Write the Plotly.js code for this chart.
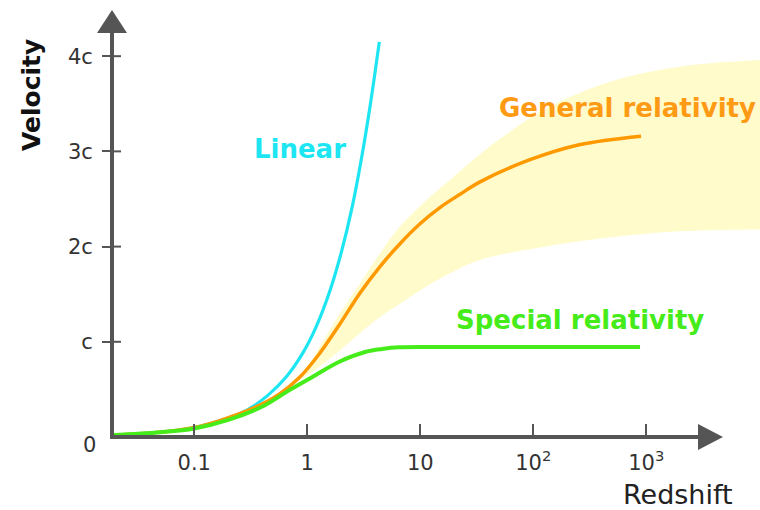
<!DOCTYPE html>
<html>
<head>
<meta charset="utf-8">
<script src="https://cdn.plot.ly/plotly-3.0.1.min.js"></script>
<style>html,body{margin:0;padding:0;background:#fff;}#chart{width:760px;height:510px;}</style>
</head>
<body>
<div id="chart"></div>
<script>
// ---- data (redshift z, velocity in units of c) ----
const linearZ = [0.019, 0.05, 0.1, 0.2, 0.3, 0.45, 0.65, 0.9, 1.2, 1.6, 2.0, 2.5, 3.0, 3.6, 4.34];
const linearV = [0.02, 0.05, 0.1, 0.2, 0.29, 0.44, 0.63, 0.87, 1.16, 1.55, 1.94, 2.42, 2.91, 3.48, 4.15];

const specialZ = [0.019, 0.05, 0.1, 0.2, 0.4, 0.69, 1.11, 1.92, 3.3, 4.6, 6.5, 14.7, 100, 880];
const specialV = [0.02, 0.05, 0.09, 0.18, 0.32, 0.49, 0.63, 0.79, 0.895, 0.925, 0.942, 0.945, 0.945, 0.945];

const generalZ = [0.019, 0.05, 0.1, 0.166, 0.328, 0.565, 0.86, 1.29, 1.95, 2.92, 4.40, 6.61, 9.94, 14.9, 22.5, 33.8, 92.2, 255, 898];
const generalV = [0.02, 0.05, 0.1, 0.17, 0.30, 0.45, 0.63, 0.88, 1.19, 1.51, 1.79, 2.03, 2.24, 2.41, 2.55, 2.68, 2.91, 3.07, 3.16];

const bandUpperZ = [0.5, 0.92, 1.29, 1.95, 2.92, 4.40, 6.61, 11.4, 18.3, 33.8, 46.8, 129, 503, 1960, 10000, 20000];
const bandUpperV = [0.42, 0.67, 0.95, 1.30, 1.61, 1.93, 2.21, 2.49, 2.70, 2.97, 3.10, 3.45, 3.74, 3.89, 3.96, 3.97];
const bandLowerZ = [0.5, 0.86, 1.29, 1.95, 2.92, 4.40, 6.61, 9.94, 18.3, 33.8, 129, 503, 1960, 10000, 20000];
const bandLowerV = [0.42, 0.60, 0.74, 0.91, 1.09, 1.26, 1.40, 1.54, 1.72, 1.86, 2.00, 2.10, 2.16, 2.18, 2.18];

const xTickVals = [0.1, 1, 10, 100, 1000];
const xTickText = ['0.1', '1', '10', '10<sup>2</sup>', '10<sup>3</sup>'];
const yTickVals = [1, 2, 3, 4];
const yTickText = ['c', '2c', '3c', '4c'];
const zeroLabel = '0';

// ---- geometry helpers (pixel -> paper) ----
const L = 112, R = 760, T = 10, B = 437;
const PW = R - L, PH = B - T;
const px = p => (p - L) / PW;
const py = p => (B - p) / PH;

const cyan = '#1DE6F2', orange = '#FF9900', green = '#46EC1A', band = '#FFFBCB', axisCol = '#555555';

const bandX = bandUpperZ.concat(bandLowerZ.slice().reverse());
const bandY = bandUpperV.concat(bandLowerV.slice().reverse());

const traces = [
  {x: bandX, y: bandY, mode: 'lines', fill: 'toself', fillcolor: band,
   line: {width: 0, shape: 'spline', smoothing: 1}, hoverinfo: 'skip', showlegend: false},
  {x: linearZ, y: linearV, mode: 'lines', line: {color: cyan, width: 3.2, shape: 'spline', smoothing: 1},
   hoverinfo: 'skip', showlegend: false},
  {x: generalZ, y: generalV, mode: 'lines', line: {color: orange, width: 3.5, shape: 'spline', smoothing: 1},
   hoverinfo: 'skip', showlegend: false},
  {x: specialZ, y: specialV, mode: 'lines', line: {color: green, width: 4, shape: 'spline', smoothing: 1},
   hoverinfo: 'skip', showlegend: false}
];

const shapes = [];
// y axis line + arrow
shapes.push({type: 'line', xref: 'paper', yref: 'paper', x0: 0, x1: 0, y0: py(438), y1: py(30),
  line: {color: axisCol, width: 4}});
shapes.push({type: 'path', xref: 'paper', yref: 'paper',
  path: `M ${px(L - 15)} ${py(33)} L ${px(L + 15)} ${py(33)} L ${px(L)} ${py(10)} Z`,
  fillcolor: axisCol, line: {width: 0}});
// x axis line + arrow
shapes.push({type: 'line', xref: 'paper', yref: 'paper', x0: px(110), x1: px(702), y0: 0, y1: 0,
  line: {color: axisCol, width: 4}});
shapes.push({type: 'path', xref: 'paper', yref: 'paper',
  path: `M ${px(698)} ${py(B - 13)} L ${px(698)} ${py(B + 13)} L ${px(723)} ${py(B)} Z`,
  fillcolor: axisCol, line: {width: 0}});
// inner halves of the y ticks (ticks cross the axis)
yTickVals.forEach(v => shapes.push({type: 'line', xref: 'paper', yref: 'y', x0: 0, x1: px(L + 9), y0: v, y1: v,
  line: {color: axisCol, width: 2}}));

const layout = {
  width: 760, height: 510,
  margin: {l: L, r: 760 - R, t: T, b: 510 - B, pad: 0},
  paper_bgcolor: '#ffffff', plot_bgcolor: '#ffffff',
  showlegend: false,
  xaxis: {type: 'log', range: [-1.728, 4.006], showgrid: false, zeroline: false, showline: false,
    tickmode: 'array', tickvals: xTickVals, ticktext: xTickText,
    ticks: 'inside', ticklen: 13, tickwidth: 2, tickcolor: axisCol,
    ticklabelstandoff: 11,
    tickfont: {family: 'DejaVu Sans', size: 21, color: '#333333'}},
  yaxis: {range: [0, 4.485], showgrid: false, zeroline: false, showline: false,
    tickmode: 'array', tickvals: yTickVals, ticktext: yTickText,
    ticks: 'outside', ticklen: 9, tickwidth: 2, tickcolor: axisCol,
    ticklabelstandoff: 5,
    tickfont: {family: 'DejaVu Sans', size: 21, color: '#333333'}},
  shapes: shapes,
  annotations: [
    {text: zeroLabel, xref: 'paper', yref: 'paper', x: px(98), y: py(445), xanchor: 'right', yanchor: 'middle',
     showarrow: false, font: {family: 'DejaVu Sans', size: 21, color: '#333333'}},
    {text: 'Velocity', xref: 'paper', yref: 'paper', x: px(31), y: py(95), xanchor: 'center', yanchor: 'middle',
     textangle: -90, showarrow: false, font: {family: 'DejaVu Sans', size: 25, color: '#111111', weight: 'bold'}},
    {text: 'Redshift', xref: 'paper', yref: 'paper', x: px(678), y: py(495), xanchor: 'center', yanchor: 'middle',
     showarrow: false, font: {family: 'DejaVu Sans', size: 27, color: '#222222'}},
    {text: 'Linear', xref: 'paper', yref: 'paper', x: px(300), y: py(149), xanchor: 'center', yanchor: 'middle',
     showarrow: false, font: {family: 'DejaVu Sans', size: 26, color: cyan, weight: 'bold'}},
    {text: 'General relativity', xref: 'paper', yref: 'paper', x: px(627), y: py(108), xanchor: 'center', yanchor: 'middle',
     showarrow: false, font: {family: 'DejaVu Sans', size: 26, color: '#FF9A14', weight: 'bold'}},
    {text: 'Special relativity', xref: 'paper', yref: 'paper', x: px(580), y: py(320), xanchor: 'center', yanchor: 'middle',
     showarrow: false, font: {family: 'DejaVu Sans', size: 26, color: green, weight: 'bold'}}
  ]
};

Plotly.newPlot('chart', traces, layout, {displayModeBar: false, staticPlot: true});
</script>
</body>
</html>
